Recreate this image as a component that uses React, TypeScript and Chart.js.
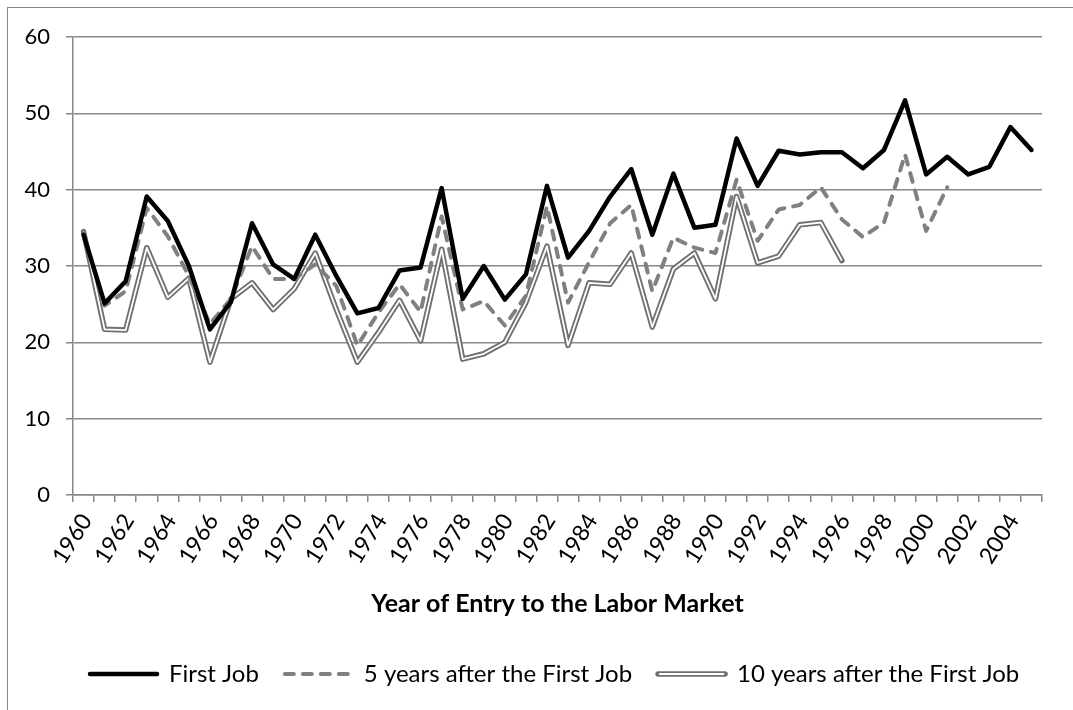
import React, { useEffect, useRef } from 'react';
import { Chart, registerables } from 'chart.js';

Chart.register(...registerables);

const years: string[] = [
  '1960', '1961', '1962', '1963', '1964', '1965', '1966', '1967', '1968', '1969',
  '1970', '1971', '1972', '1973', '1974', '1975', '1976', '1977', '1978', '1979',
  '1980', '1981', '1982', '1983', '1984', '1985', '1986', '1987', '1988', '1989',
  '1990', '1991', '1992', '1993', '1994', '1995', '1996', '1997', '1998', '1999',
  '2000', '2001', '2002', '2003', '2004', '2005',
];

const shownYearLabels: string[] = [
  '1960', '1962', '1964', '1966', '1968', '1970', '1972', '1974', '1976', '1978',
  '1980', '1982', '1984', '1986', '1988', '1990', '1992', '1994', '1996', '1998',
  '2000', '2002', '2004',
];

const firstJob: (number | null)[] = [
  34.1, 25.1, 28.0, 39.1, 35.9, 30.0, 21.7, 25.3, 35.6, 30.2,
  28.3, 34.1, 28.7, 23.8, 24.5, 29.4, 29.8, 40.2, 25.7, 30.0,
  25.6, 28.9, 40.5, 31.1, 34.6, 39.1, 42.7, 34.1, 42.1, 35.0,
  35.4, 46.7, 40.5, 45.1, 44.6, 44.9, 44.9, 42.8, 45.2, 51.7,
  42.0, 44.3, 42.0, 43.0, 48.2, 45.2,
];

const fiveYearsAfter: (number | null)[] = [
  34.3, 24.8, 26.7, 37.6, 33.9, 28.7, 22.4, 25.7, 32.6, 28.3,
  28.3, 30.2, 27.4, 19.6, 23.9, 27.6, 24.0, 36.5, 24.3, 25.4,
  22.2, 26.1, 37.8, 25.2, 30.5, 35.6, 38.0, 26.7, 33.7, 32.4,
  31.7, 41.3, 33.3, 37.4, 38.0, 40.3, 36.1, 33.8, 35.7, 44.6,
  34.6, 40.3, null, null, null, null,
];

const tenYearsAfter: (number | null)[] = [
  34.5, 21.7, 21.6, 32.4, 25.9, 28.4, 17.4, 25.7, 27.8, 24.3,
  27.0, 31.7, 24.3, 17.4, 21.3, 25.5, 20.2, 32.2, 17.8, 18.5,
  20.0, 25.2, 32.6, 19.6, 27.8, 27.6, 31.7, 22.0, 29.6, 31.7,
  25.7, 39.1, 30.4, 31.3, 35.4, 35.7, 30.7, null, null, null,
  null, null, null, null, null, null,
];

const seriesNames: string[] = [
  'First Job',
  '5 years after the First Job',
  '10 years after the First Job',
];

const yTicks = { min: 0, max: 60, step: 10 };
const xTitle = 'Year of Entry to the Labor Market';

const GRID = '#888888';
const FONT = 'Lato';
const TICK_FS = 22;
const XTICK_FS = 23;
const LEGEND_FS = 24;
const TITLE_FS = 25;
const LEGEND_PAD = 26;
const SAMPLE_W = 67;
const LEGEND_LEFT = 64;

const framePlugin = {
  id: 'framePlugin',
  afterUpdate(chart: any) {
    const lg = chart.legend;
    if (lg) lg.left = LEGEND_LEFT;
  },
  beforeDraw(chart: any) {
    const ctx = chart.ctx;
    ctx.save();
    ctx.strokeStyle = '#868686';
    ctx.lineWidth = 1;
    ctx.strokeRect(7.5, 7.5, 3000, 3000);
    ctx.restore();
  },
  afterDraw(chart: any) {
    const lg = chart.legend;
    if (!lg || !lg.legendItems) return;
    const ctx = chart.ctx;
    ctx.save();
    ctx.font = `${LEGEND_FS}px ${FONT}`;
    let x = lg.left + LEGEND_PAD;
    const cy = lg.top + LEGEND_PAD + LEGEND_FS / 2;
    for (const it of lg.legendItems) {
      if (it.datasetIndex === 3) {
        ctx.strokeStyle = '#ffffff';
        ctx.lineWidth = 1.8;
        ctx.lineCap = 'butt';
        ctx.setLineDash([]);
        ctx.beginPath();
        ctx.moveTo(x + 1, cy);
        ctx.lineTo(x + SAMPLE_W - 1, cy);
        ctx.stroke();
        break;
      }
      x += SAMPLE_W + LEGEND_FS / 2 + ctx.measureText(it.text).width + LEGEND_PAD;
    }
    ctx.restore();
  },
};

export default function App() {
  const ref = useRef<HTMLCanvasElement>(null);

  useEffect(() => {
    const canvas = ref.current;
    if (!canvas) return;
    Chart.defaults.font.family = FONT;
    Chart.defaults.color = '#000';

    const chart = new Chart(canvas, {
      type: 'line',
      data: {
        labels: years,
        datasets: [
          {
            label: seriesNames[0],
            data: firstJob,
            borderColor: '#000000',
            backgroundColor: '#000000',
            borderWidth: 4.5,
            pointRadius: 0,
            borderJoinStyle: 'round',
            borderCapStyle: 'round',
            tension: 0,
            order: 0,
          },
          {
            label: seriesNames[1],
            data: fiveYearsAfter,
            borderColor: '#808080',
            backgroundColor: '#808080',
            borderWidth: 4,
            borderDash: [9, 9],
            pointRadius: 0,
            borderJoinStyle: 'round',
            borderCapStyle: 'round',
            tension: 0,
            order: 1,
          },
          {
            label: '',
            data: tenYearsAfter,
            borderColor: '#ffffff',
            backgroundColor: '#ffffff',
            borderWidth: 1.8,
            pointRadius: 0,
            borderJoinStyle: 'round',
            borderCapStyle: 'butt',
            tension: 0,
            order: 2,
          },
          {
            label: seriesNames[2],
            data: tenYearsAfter,
            borderColor: '#707070',
            backgroundColor: '#707070',
            borderWidth: 5.5,
            pointRadius: 0,
            borderJoinStyle: 'round',
            borderCapStyle: 'round',
            tension: 0,
            order: 3,
          },
        ],
      },
      options: {
        responsive: false,
        animation: false,
        devicePixelRatio: 1,
        layout: { padding: { left: 0, right: 0, top: 37, bottom: 14 } },
        plugins: {
          tooltip: { enabled: false },
          legend: {
            position: 'bottom',
            align: 'start',
            labels: {
              usePointStyle: true,
              pointStyle: 'line',
              pointStyleWidth: SAMPLE_W,
              padding: LEGEND_PAD,
              color: '#000',
              font: { family: FONT, size: LEGEND_FS },
              generateLabels: (c: any) => {
                const items = (Chart.defaults.plugins.legend.labels as any).generateLabels(c);
                items.forEach((it: any) => {
                  const ds: any = c.data.datasets[it.datasetIndex];
                  it.lineDash = ds.borderDash || [];
                  it.lineWidth = ds.borderWidth;
                  it.strokeStyle = ds.borderColor;
                  it.fillStyle = ds.borderColor;
                  it.lineCap = ds.borderCapStyle;
                  it.pointStyle = 'line';
                });
                return items;
              },
              filter: (item: any) => item.datasetIndex !== 2,
            },
          },
        },
        scales: {
          x: {
            type: 'category',
            offset: true,
            grid: {
              offset: true,
              drawOnChartArea: false,
              drawTicks: true,
              tickLength: 7,
              color: GRID,
              lineWidth: 1.5,
            },
            border: { display: true, color: GRID, width: 1.5 },
            ticks: {
              autoSkip: false,
              maxRotation: 58,
              minRotation: 58,
              padding: 7,
              labelOffset: 3,
              color: '#000',
              font: { family: FONT, size: XTICK_FS },
              callback: (_v: any, i: number) =>
                shownYearLabels.includes(years[i]) ? years[i] : '',
            },
            title: {
              display: true,
              text: xTitle,
              color: '#000',
              font: { family: FONT, size: TITLE_FS, weight: 'bold' },
              padding: { top: 4, bottom: 17 },
            },
            afterFit: (s: any) => {
              s.height = 141;
            },
          },
          y: {
            min: yTicks.min,
            max: yTicks.max,
            ticks: {
              stepSize: yTicks.step,
              padding: 16,
              color: '#000',
              font: { family: FONT, size: TICK_FS },
            },
            grid: {
              color: GRID,
              lineWidth: 1.5,
              tickLength: 7,
              drawTicks: true,
            },
            border: { display: true, color: GRID, width: 1.5 },
            afterFit: (s: any) => {
              s.width = 73;
            },
          },
          yR: {
            position: 'right',
            display: true,
            grid: { display: false, drawTicks: false },
            border: { display: false },
            ticks: { display: false },
            afterFit: (s: any) => {
              s.width = 78;
            },
          },
        },
      },
      plugins: [framePlugin],
    } as any);

    return () => chart.destroy();
  }, []);

  return (
    <canvas
      ref={ref}
      width={1120}
      height={710}
      style={{ position: 'fixed', left: 0, top: 0 }}
    />
  );
}
